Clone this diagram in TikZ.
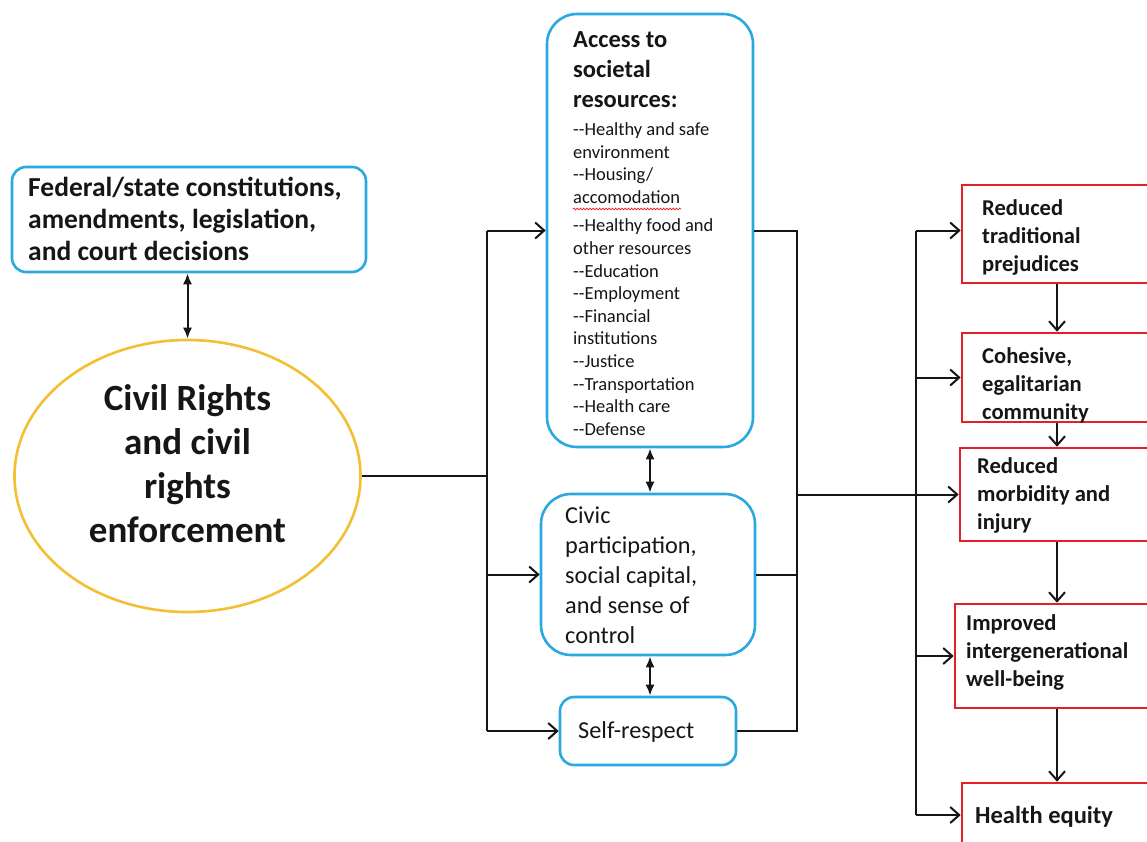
\documentclass[tikz,border=0pt]{standalone}
\usepackage{fontspec}
\setmainfont{Carlito}
\usetikzlibrary{arrows.meta,shapes.geometric,decorations.pathmorphing}
\definecolor{bxblue}{RGB}{42,168,224}
\definecolor{bxred}{RGB}{228,32,38}
\definecolor{bxgold}{RGB}{242,192,50}
\definecolor{ink}{RGB}{22,22,22}
\tikzset{
  bluebox/.style={draw=bxblue, line width=2.6pt, fill=white, inner sep=0pt},
  redbox/.style={draw=bxred, line width=2.6pt, fill=white, inner sep=0pt, rectangle},
  txt/.style={inner sep=0pt, text=ink, align=left, anchor=north west},
  conn/.style={line width=2pt, draw=ink},
  arr/.style={conn, -{Straight Barb[length=9pt,width=16pt]}},
  dbl/.style={conn, {Latex[length=11pt,width=9pt]}-{Latex[length=11pt,width=9pt]}},
  fbig/.style={font=\bfseries\fontsize{27.5}{32}\selectfont},
  fhuge/.style={font=\bfseries\fontsize{37}{44}\selectfont},
  fhead/.style={font=\bfseries\fontsize{24.5}{30}\selectfont},
  flist/.style={font=\fontsize{18.5}{22.6}\selectfont},
  fmid/.style={font=\fontsize{24.3}{29.8}\selectfont},
  fred/.style={font=\bfseries\fontsize{22.6}{28}\selectfont},
}
\begin{document}
\begin{tikzpicture}[x=1pt,y=-1pt]
\useasboundingbox (0,0) rectangle (1147,841);
\fill[white] (0,0) rectangle (1147,841);
\clip (0,0) rectangle (1147,841);

% left side
\node[bluebox, rounded corners=14pt, minimum width=354pt, minimum height=105pt] (fed) at (189,219.5) {};
\node[txt, fbig] (fedt) at (28,177) {Federal/state constitutions,\\amendments, legislation,\\and court decisions};

\node[ellipse, draw=bxgold, line width=2.6pt, fill=white, minimum width=346pt, minimum height=272pt, inner sep=0pt] (cr) at (187.5,476) {};
\node[inner sep=0pt, text=ink, align=center, anchor=north, fhuge] (crt) at (187.5,384) {Civil Rights\\and civil\\rights\\enforcement};

\draw[dbl] (cr.north |- fed.south) -- (cr.north);

% middle boxes
\node[bluebox, rounded corners=30pt, minimum width=206pt, minimum height=433pt] (acc) at (650,230.5) {};
\node[txt, fhead] (acct) at (573,31) {Access to\\societal\\resources:};
\node[txt, flist] (accl) at (573,122.5) {-{}-Healthy and safe\\environment\\-{}-Housing/\\accomodation\\[6pt]-{}-Healthy food and\\other resources\\-{}-Education\\-{}-Employment\\-{}-Financial\\institutions\\-{}-Justice\\-{}-Transportation\\-{}-Health care\\-{}-Defense};
\coordinate (wavyA) at (573,209);
\coordinate (wavyB) at (681,209);
\draw[bxred, line width=0.7pt, decorate, decoration={snake, amplitude=0.9pt, segment length=3.2pt}] (wavyA) -- (wavyB);

\node[bluebox, rounded corners=30pt, minimum width=214pt, minimum height=161pt] (civ) at (648,574.5) {};
\node[txt, fmid] (civt) at (565,507) {Civic\\participation,\\social capital,\\and sense of\\control};

\node[bluebox, rounded corners=14pt, minimum width=176pt, minimum height=68pt] (self) at (648,731) {};
\node[inner sep=0pt, text=ink, anchor=base west, fmid] (selft) at (578,738) {Self-respect};

\coordinate (dx) at (650,0);
\draw[dbl] (acc.south -| dx) -- (civ.north -| dx);
\draw[dbl] (civ.south -| dx) -- (self.north -| dx);

% left trunk
\coordinate (tA) at (487,230.5);
\coordinate (tB) at (487,731);
\draw[conn] (tA) -- (tB);
\draw[conn] (cr.east) -- (cr.east -| tA);
\draw[arr] (tA) -- (acc.west);
\draw[arr] (civ.west -| tA) -- (civ.west);
\draw[arr] (tB) -- (self.west);

% right side boxes
\node[redbox, minimum width=198pt, minimum height=98pt] (r1) at (1061,234) {};
\node[txt, fred] (r1t) at (982,199) {Reduced\\traditional\\prejudices};
\node[redbox, minimum width=198pt, minimum height=89pt] (r2) at (1061,377.5) {};
\node[txt, fred] (r2t) at (982,347) {Cohesive,\\egalitarian\\community};
\node[redbox, minimum width=200pt, minimum height=93pt] (r3) at (1060,494.5) {};
\node[txt, fred] (r3t) at (977,457) {Reduced\\morbidity and\\injury};
\node[redbox, minimum width=205pt, minimum height=104pt] (r4) at (1057.5,656) {};
\node[txt, fred] (r4t) at (966,614) {Improved\\intergenerational\\well-being};
\node[redbox, minimum width=198pt, minimum height=64pt] (r5) at (1061,815) {};
\node[inner sep=0pt, text=ink, anchor=base west, fhead] (r5t) at (975,823) {Health equity};

% right collector
\coordinate (rA) at (797,230.5);
\draw[conn] (acc.east) -- (rA) -- (rA |- self.east) -- (self.east);
\draw[conn] (civ.east) -- (civ.east -| rA);
\draw[arr] (rA |- r3.west) -- (r3.west);

% second trunk
\coordinate (sA) at (916,230.5);
\coordinate (sB) at (916,815);
\draw[conn] (sA) -- (sB);
\draw[arr] (sA) -- (sA -| r1.west);
\draw[arr] (sA |- r2.west) -- (r2.west);
\draw[arr] (sA |- r4.west) -- (r4.west);
\draw[arr] (sB) -- (r5.west);

% vertical chain
\coordinate (vx) at (1057,0);
\draw[arr] (r1.south -| vx) -- (r2.north -| vx);
\draw[arr] (r2.south -| vx) -- (r3.north -| vx);
\draw[arr] (r3.south -| vx) -- (r4.north -| vx);
\draw[arr] (r4.south -| vx) -- (r5.north -| vx);
\end{tikzpicture}
\end{document}
